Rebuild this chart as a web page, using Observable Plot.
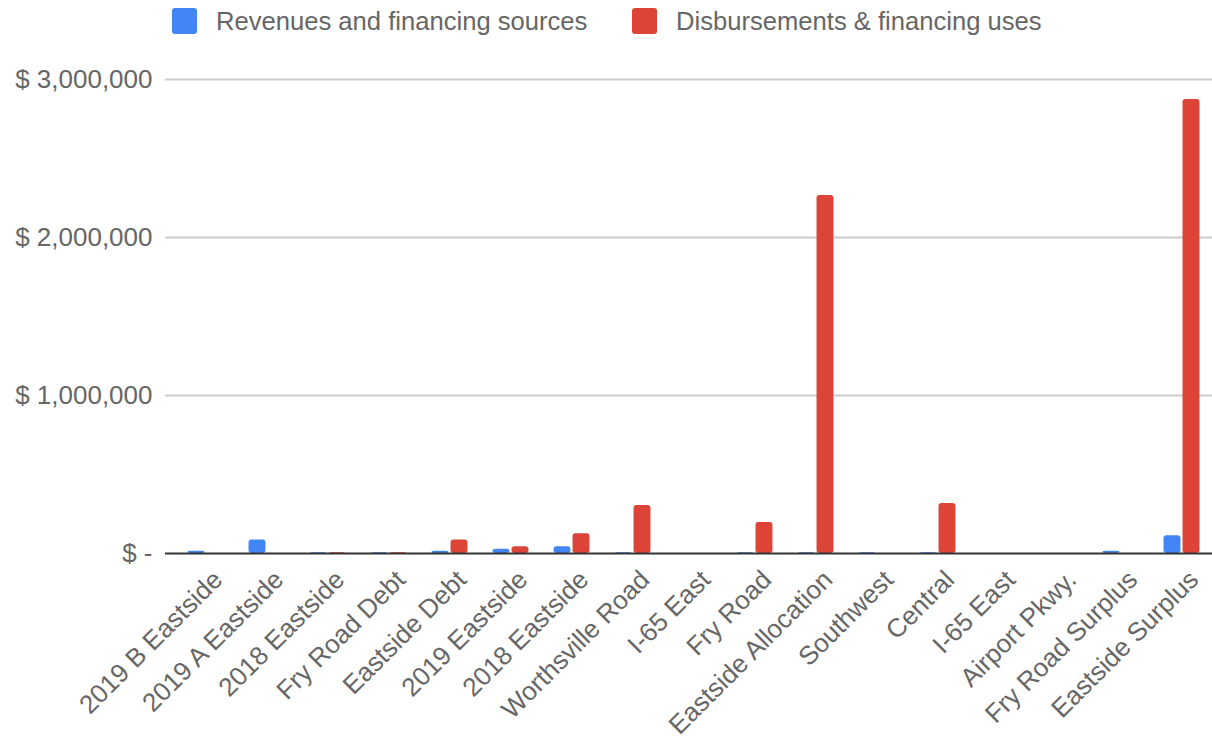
<!DOCTYPE html>
<html><head><meta charset="utf-8">
<script src="https://cdn.jsdelivr.net/npm/d3@7"></script>
<script src="https://cdn.jsdelivr.net/npm/@observablehq/plot@0.6"></script>
<style>
body{margin:0;background:#fff;font-family:"Liberation Sans",Arial,sans-serif;}
#legend{position:relative;height:45px;width:1212px;}
.sw{position:absolute;top:8px;width:25px;height:26px;border-radius:3px;}
.lt{position:absolute;top:0;font-size:25.6px;line-height:42px;color:#666;white-space:nowrap;}
#chart svg{display:block;}
</style>
</head><body>
<div id="legend"></div>
<div id="chart"></div>
<script>
const categories = ["2019 B Eastside","2019 A Eastside","2018 Eastside","Fry Road Debt","Eastside Debt","2019 Eastside","2018 Eastside","Worthsville Road","I-65 East","Fry Road","Eastside Allocation","Southwest","Central","I-65 East","Airport Pkwy.","Fry Road Surplus","Eastside Surplus"];
const revenues = [15000,85000,4000,4000,15000,27000,42000,4000,0,4000,4000,4000,4000,0,0,15000,112000];
const disbursements = [0,0,4000,4000,85000,42000,125000,304000,0,196000,2266000,0,316000,0,0,0,2873000];
const seriesNames = ["Revenues and financing sources","Disbursements & financing uses"];
const seriesColors = ["#4285f4","#db4437"];
const yTicks = [0,1000000,2000000,3000000];
const yTickLabels = ["$ -","$ 1,000,000","$ 2,000,000","$ 3,000,000"];

// legend
const legend = document.getElementById("legend");
const legendPos = [[172,216],[632,676]];
seriesNames.forEach((n,k)=>{
  const s=document.createElement("div");s.className="sw";s.style.left=legendPos[k][0]+"px";s.style.background=seriesColors[k];legend.appendChild(s);
  const t=document.createElement("div");t.className="lt";t.style.left=legendPos[k][1]+"px";t.textContent=n;legend.appendChild(t);
});

const rows = categories.map((c,i)=>({i, cat:c, rev:revenues[i], dis:disbursements[i]}));
const W=1212, H=694;
const bw=(1212-174)/categories.length;
const inset=(bw-17)/2;

const chart = Plot.plot({
  width:W, height:H,
  marginLeft:165, marginRight:0, marginTop:34, marginBottom:186,
  style:{fontFamily:"'Liberation Sans',Arial,sans-serif", fontSize:"26px", color:"#666", background:"#fff"},
  x:{type:"band", domain:d3.range(categories.length), range:[174,1212], padding:0, axis:null},
  y:{domain:[0,3000000], axis:null},
  marks:[
    Plot.ruleY(yTicks.slice(1), {stroke:"#cccccc", strokeWidth:2}),
    Plot.axisY({ticks:yTicks, tickFormat:(d)=>yTickLabels[yTicks.indexOf(d)], tickSize:0, tickPadding:13, fill:"#666", fontSize:26}),
    Plot.barY(rows, {x:"i", y:"rev", fill:seriesColors[0], insetLeft:inset, insetRight:inset, dx:-9.5, rx:3}),
    Plot.barY(rows, {x:"i", y:"dis", fill:seriesColors[1], insetLeft:inset, insetRight:inset, dx:9.5, rx:3}),
    Plot.ruleY([0], {stroke:"#333", strokeWidth:2}),
    Plot.text(rows, {x:"i", y:0, text:"cat", rotate:-45, textAnchor:"end", dx:12, dy:22, fill:"#666", fontSize:26})
  ]
});
document.getElementById("chart").appendChild(chart);
</script>
</body></html>
